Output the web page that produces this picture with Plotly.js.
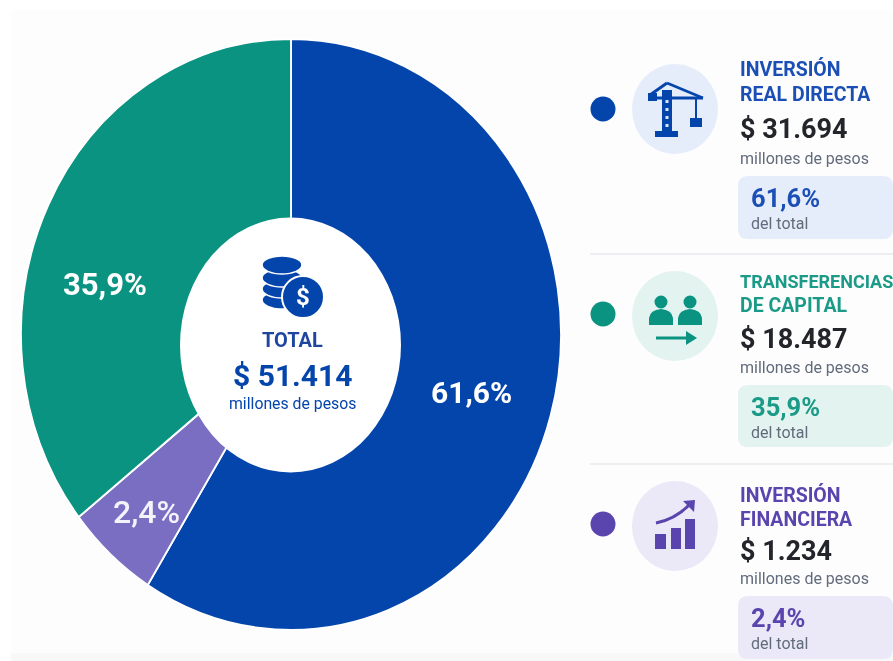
<!DOCTYPE html>
<html lang="es">
<head>
<meta charset="utf-8">
<script src="https://cdn.plot.ly/plotly-3.0.1.min.js"></script>
<style>
html,body{margin:0;padding:0;background:#fff;overflow:hidden}
#chart{width:893px;height:661px;filter:blur(0.6px)}
</style>
</head>
<body>
<div id="chart"></div>
<script>
// Values as printed in the picture
const categories = ['Inversión Real Directa', 'Inversión Financiera', 'Transferencias de Capital'];
const titleLines = [['INVERSIÓN', 'REAL DIRECTA'], ['TRANSFERENCIAS', 'DE CAPITAL'], ['INVERSIÓN', 'FINANCIERA']];
const amountLabels = ['$ 31.694', '$ 18.487', '$ 1.234'];
const shareLabels = ['61,6%', '35,9%', '2,4%'];
const unitLabel = 'millones de pesos';
const shareCaption = 'del total';
const totalLabel = '$ 51.414';
// Arc sizes as actually drawn in the picture (percent of the ring, clockwise from 12 o'clock).
// The source graphic does not draw its arcs to the printed percentages.
const drawnArcs = [58.9, 5.5, 35.6];
const sliceColors = ['#0445AC', '#7A6EC3', '#0A9380'];

const BLUE = '#0445AC', TEAL = '#0A9380', PURPLE = '#5A45AE';
const accent = [BLUE, TEAL, PURPLE];
const tint = ['#E5EDFB', '#E2F3F0', '#EBE8F8'];
const titleColor = ['#1B4FB5', '#1A9A87', '#5A45AE'];

const shapes = [];
const D = {xref: 'x', yref: 'y'};
const rect = (x0, y0, x1, y1, c, layer) => shapes.push({...D, type: 'rect', x0, y0, x1, y1, fillcolor: c, line: {width: 0}, layer: layer || 'above'});
const ell = (cx, cy, rx, ry, c, lw, lc) => shapes.push({...D, type: 'circle', x0: cx - rx, x1: cx + rx, y0: cy - ry, y1: cy + ry, fillcolor: c, line: {width: lw || 0, color: lc || c}, layer: 'above'});
const seg = (x0, y0, x1, y1, c, w) => shapes.push({...D, type: 'line', x0, y0, x1, y1, line: {color: c, width: w}, layer: 'above'});
const path = (d, fill, lc, lw) => shapes.push({...D, type: 'path', path: d, fillcolor: fill || 'rgba(0,0,0,0)', line: {color: lc || 'rgba(0,0,0,0)', width: lw || 0}, layer: 'above'});

// Background panel
rect(11, 10, 893, 661, '#FDFDFD', 'below');
rect(11, 653, 893, 661, '#F8F8F8', 'below');

// Hole of the ring (off-centre in the source)
ell(290.5, 345, 110.5, 127.5, '#FFFFFF');

// Coins icon in the hole
[300, 289, 278].forEach(y => ell(282, y, 20, 9, BLUE, 1.6, '#FFFFFF'));
ell(282, 265, 20, 9, BLUE, 1.6, '#FFFFFF');
ell(303, 297, 21, 21, BLUE, 2, '#FFFFFF');

// Dividers
seg(590, 254, 893, 254, '#E6E8EE', 1.5);
seg(590, 464, 893, 464, '#E9EAEE', 1.5);

// Icon discs
const rowDotY = [109, 314, 524];
const discY = [109, 316, 526];
discY.forEach((y, i) => ell(675, y, 43, 45, tint[i]));

// Share cards
const cardTop = [176, 385, 596], cardBottom = [239, 447, 659], cardLeft = [738, 738, 738];
cardTop.forEach((t, i) => {
  const b = cardBottom[i], l = cardLeft[i], r = 893, k = 10;
  path(`M ${l + k} ${t} L ${r - k} ${t} Q ${r} ${t} ${r} ${t + k} L ${r} ${b - k} Q ${r} ${b} ${r - k} ${b} L ${l + k} ${b} Q ${l} ${b} ${l} ${b - k} L ${l} ${t + k} Q ${l} ${t} ${l + k} ${t} Z`, tint[i]);
});

// Crane icon
rect(662, 90, 672, 133, BLUE);
[100, 108, 116, 124].forEach(y => rect(665.5, y, 668.5, y + 3, '#DCE7F8'));
rect(655, 131, 678, 137, BLUE);
seg(648, 98, 703, 98, BLUE, 3);
seg(667, 83, 703, 98, BLUE, 2.5);
seg(667, 83, 650, 95, BLUE, 3);
rect(648, 93, 657, 101, BLUE);
seg(696, 98, 696, 119, BLUE, 2);
rect(690, 118, 702, 127, BLUE);

// People and arrow icon
ell(661, 302, 6.5, 6.5, TEAL);
ell(690, 302, 6.5, 6.5, TEAL);
path('M 649 325 L 649 318 Q 650 310 661 309 Q 672 310 673 318 L 673 325 Z', TEAL);
path('M 678 325 L 678 318 Q 679 310 690 309 Q 701 310 702 318 L 702 325 Z', TEAL);
seg(656, 338, 690, 338, TEAL, 3);
path('M 686 331 L 697 338 L 686 345 Z', TEAL);

// Bars and rising arrow icon
rect(655, 534, 666, 549, PURPLE);
rect(671, 528, 681, 549, PURPLE);
rect(685, 519, 695, 549, PURPLE);
path('M 656 523 Q 676 519 690 504', null, PURPLE, 3);
path('M 683 501 L 695 500 L 694 512 Z', PURPLE);

// Text
const annotations = [];
const label = (x, y, text, size, color, weight, anchor) => annotations.push({
  x, y, xref: 'x', yref: 'y', text, showarrow: false, xanchor: anchor || 'left', yanchor: 'middle',
  font: {family: 'Roboto, sans-serif', size, color, weight: weight || 400}
});

const rowTitleY = [[69, 94], [281, 305], [495, 519]];
const rowAmountY = [129, 339, 551];
const rowUnitY = [158, 367, 578];
const rowShareY = [198, 407, 618];
const rowCaptionY = [223, 432, 643];
[0, 1, 2].forEach(i => {
  titleLines[i].forEach((t, j) => label(738, rowTitleY[i][j], t, t.length > 12 ? 18 : 19.5, titleColor[i], 700));
  label(738, rowAmountY[i], amountLabels[i], 27, '#23252B', 700);
  label(738, rowUnitY[i], unitLabel, 16, '#626B7C', 400);
  label(749, rowShareY[i], shareLabels[i], 25.5, titleColor[i], 700);
  label(749, rowCaptionY[i], shareCaption, 16, '#626B7C', 400);
});

// Centre of the ring
label(292, 340, 'TOTAL', 20, '#1F459F', 700, 'center');
label(292, 375, totalLabel, 30, BLUE, 700, 'center');
label(292, 403, unitLabel, 15.8, BLUE, 400, 'center');
label(303, 297, '$', 24, '#FFFFFF', 700, 'center');

// Ring labels
label(471, 392, shareLabels[0], 30, '#FFFFFF', 700, 'center');
label(105, 284, shareLabels[1], 31, '#FFFFFF', 700, 'center');
label(146, 512, shareLabels[2], 32, '#F4F2FB', 500, 'center');

const ring = {
  type: 'pie', values: drawnArcs, labels: categories, sort: false, direction: 'clockwise', rotation: 0,
  hole: 0.38, textinfo: 'none', hoverinfo: 'label',
  marker: {colors: sliceColors, line: {color: '#FFFFFF', width: 2}},
  domain: {x: [0, 591 / 893], y: [1 - 630 / 661, 1 - 39 / 661]}
};
const dots = {
  type: 'scatter', mode: 'markers', x: [603, 603, 603], y: rowDotY, hoverinfo: 'skip',
  marker: {size: 25, color: accent}, showlegend: false
};
const layout = {
  width: 893, height: 661, margin: {l: 0, r: 0, t: 0, b: 0}, showlegend: false,
  paper_bgcolor: '#FFFFFF', plot_bgcolor: 'rgba(0,0,0,0)',
  xaxis: {range: [0, 893], visible: false, fixedrange: true},
  yaxis: {range: [661, 0], visible: false, fixedrange: true},
  shapes, annotations
};
Plotly.newPlot('chart', [dots, ring], layout, {displayModeBar: false, staticPlot: true}).then(gd => {
  // The source ring is an ellipse (270 wide radius, 295.5 tall radius); Plotly's pie is round.
  const g = gd.querySelector('.pielayer');
  if (g) g.setAttribute('transform', 'translate(291,0) scale(' + (270 / 295.5) + ',1) translate(-295.5,0)');
});
</script>
</body>
</html>
